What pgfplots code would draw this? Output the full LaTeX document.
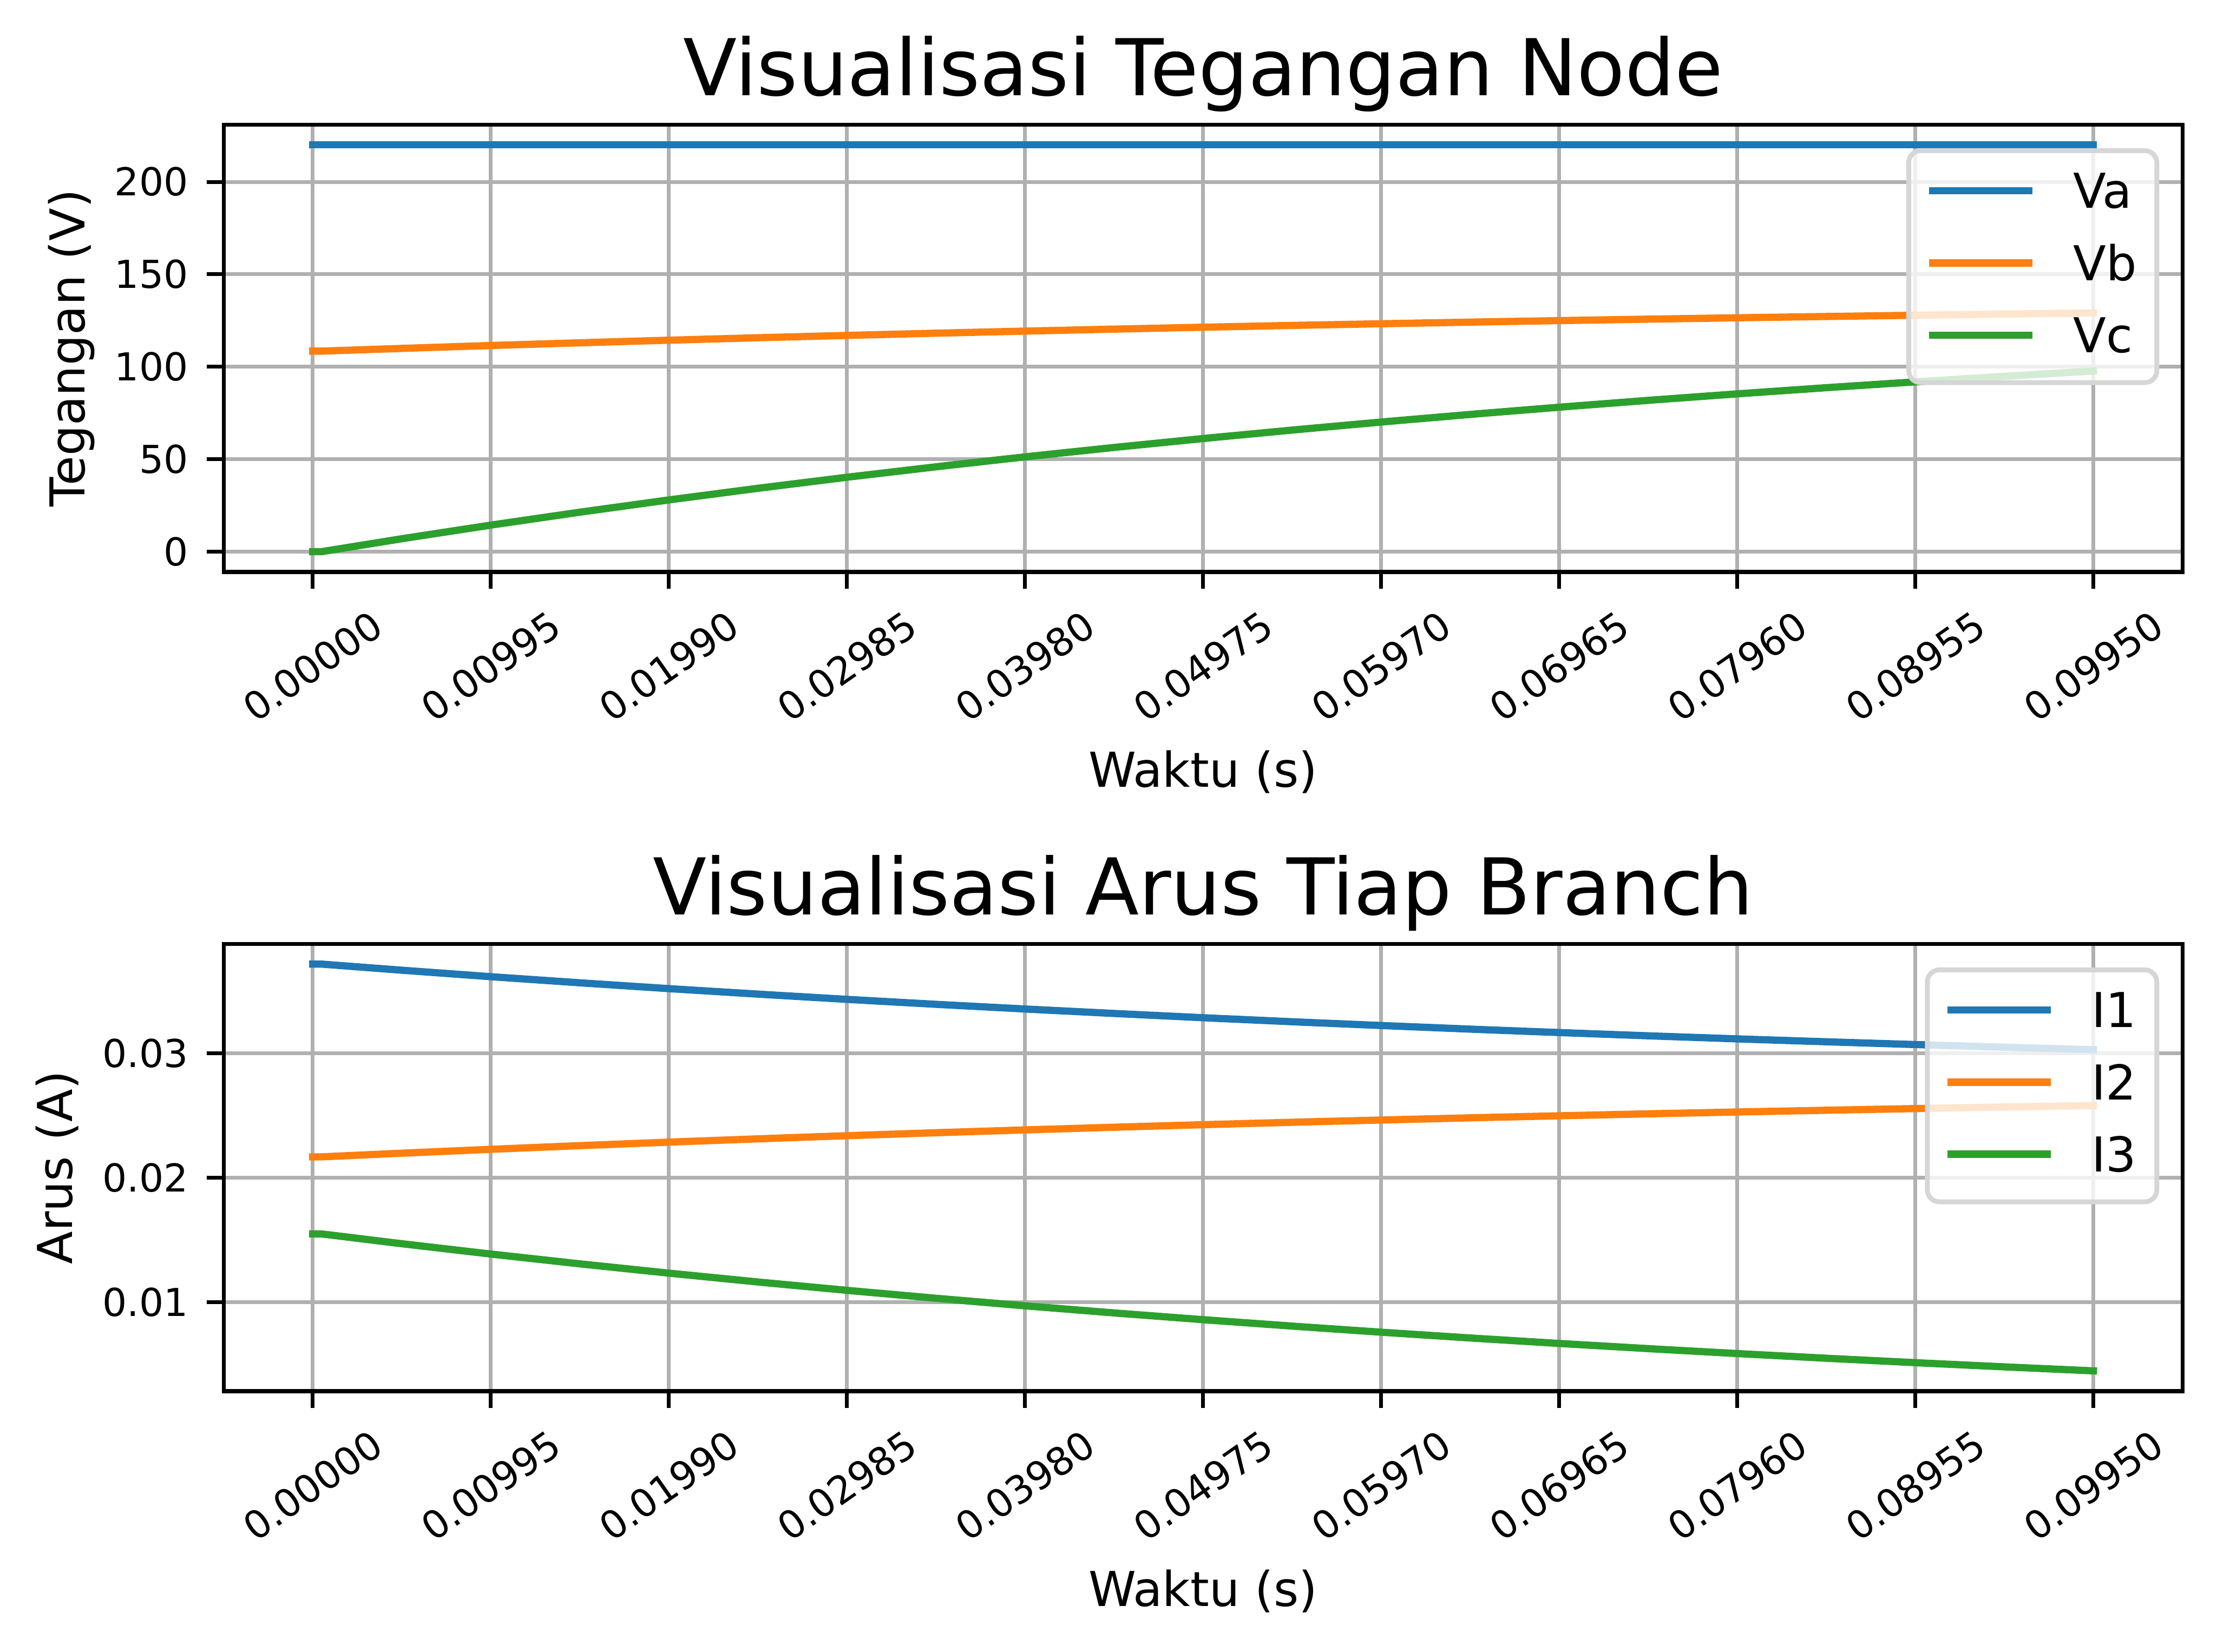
\documentclass[border=0pt]{standalone}
\usepackage{fontspec}
\setmainfont{DejaVu Sans}
\usepackage{pgfplots}
\usepackage{pgfplotstable}
\pgfplotsset{compat=1.18}

\definecolor{c0}{HTML}{1F77B4}
\definecolor{c1}{HTML}{FF7F0E}
\definecolor{c2}{HTML}{2CA02C}
\definecolor{gridc}{HTML}{B0B0B0}
\definecolor{legc}{HTML}{D6D6D6}

\pgfplotstableread{
t Va Vb Vc
0 220 108.45 0
0.0005 220 108.45 0
0.005 220 109.93 7.01
0.010 220 111.50 14.42
0.015 220 112.98 21.44
0.020 220 114.39 28.10
0.025 220 115.72 34.42
0.030 220 116.99 40.41
0.035 220 118.19 46.08
0.040 220 119.32 51.47
0.045 220 120.40 56.57
0.050 220 121.43 61.41
0.055 220 122.40 66.00
0.060 220 123.31 70.35
0.065 220 124.19 74.48
0.070 220 125.01 78.39
0.075 220 125.80 82.10
0.080 220 126.54 85.62
0.085 220 127.24 88.95
0.090 220 127.91 92.11
0.095 220 128.55 95.11
0.0995 220 129.09 97.68
}\voltages

\pgfplotstableread{
t I1 I2 I3
0 0.037183 0.021690 0.015493
0.0005 0.037183 0.021690 0.015493
0.005 0.036690 0.021986 0.014703
0.010 0.036167 0.022300 0.013869
0.015 0.035673 0.022596 0.013077
0.020 0.035203 0.022878 0.012327
0.025 0.034760 0.023144 0.011614
0.030 0.034337 0.023398 0.010940
0.035 0.033937 0.023638 0.010301
0.040 0.033560 0.023864 0.009693
0.045 0.033200 0.024080 0.009119
0.050 0.032857 0.024286 0.008574
0.055 0.032533 0.024480 0.008057
0.060 0.032230 0.024662 0.007566
0.065 0.031937 0.024838 0.007101
0.070 0.031663 0.025002 0.006660
0.075 0.031400 0.025160 0.006243
0.080 0.031153 0.025308 0.005846
0.085 0.030920 0.025448 0.005470
0.090 0.030697 0.025582 0.005114
0.095 0.030483 0.025710 0.004777
0.0995 0.030303 0.025818 0.004487
}\currents

\pgfplotsset{
  legend image code/.code={\draw[#1, line width=1.5pt, line cap=rect] (0pt,0.775pt) -- (20pt,0.775pt);},
  mystyle/.style={
    scale only axis, width=407.24pt, height=93.05pt,
    xmin=-0.004975, xmax=0.104475,
    xtick={0,0.00995,0.0199,0.02985,0.0398,0.04975,0.0597,0.06965,0.0796,0.08955,0.0995},
    xticklabels={0.00000,0.00995,0.01990,0.02985,0.03980,0.04975,0.05970,0.06965,0.07960,0.08955,0.09950},
    scaled x ticks=false, scaled y ticks=false,
    xtick pos=lower, ytick pos=left, tick align=outside,
    major tick length=3.5pt,
    tick style={black, line width=0.8pt},
    axis line style={black, line width=0.8pt},
    grid=major, major grid style={gridc, line width=0.8pt},
    ticklabel style={font=\fontsize{8}{9.6}\selectfont, inner sep=0pt},
    xticklabel style={rotate=35, anchor=center},
    xticklabel shift=16.1pt,
    yticklabel style={anchor=east},
    yticklabel shift=3.7pt,
    every axis x label/.style={at={(axis description cs:0.5,-0.4809)}, anchor=base, font=\fontsize{10}{12}\selectfont},
    every axis title/.style={at={(axis description cs:0.5,1.0645)}, anchor=base, font=\fontsize{16.3}{19.5}\selectfont},
    legend cell align=left,
    legend style={at={(0.98813,0.9470)}, anchor=north east, draw=legc, line width=1pt,
      rounded corners=2.5pt, fill=white, fill opacity=0.8, text opacity=1,
      inner xsep=4.2pt, inner ysep=4.7pt, row sep=6.16pt, column sep=8.5pt,
      nodes={inner sep=0pt, text height=7.29pt, text depth=1.55pt, font=\fontsize{10}{12}\selectfont}},
  }
}

\begin{document}
\begin{tikzpicture}
\begin{axis}[mystyle, at={(46.51pt,224.50pt)}, anchor=south west,
  ymin=-11, ymax=231,
  ytick={0,50,100,150,200}, yticklabels={0,50,100,150,200},
  title={Visualisasi Tegangan Node},
  xlabel={Waktu (s)},
  every axis y label/.style={at={(axis description cs:-0.07087,0.5)}, rotate=90, anchor=base, font=\fontsize{10}{12}\selectfont},
  ylabel={Tegangan (V)}]
\addplot[c0, line width=1.5pt, line cap=rect, line join=round] table[x=t, y=Va] {\voltages};
\addlegendentry{Va}
\addplot[c1, line width=1.5pt, line cap=rect, line join=round] table[x=t, y=Vb] {\voltages};
\addlegendentry{Vb}
\addplot[c2, line width=1.5pt, line cap=rect, line join=round] table[x=t, y=Vc] {\voltages};
\addlegendentry{Vc}
\end{axis}

\begin{axis}[mystyle, at={(46.51pt,54.13pt)}, anchor=south west,
  ymin=0.002852, ymax=0.038818,
  ytick={0.01,0.02,0.03}, yticklabels={0.01,0.02,0.03},
  title={Visualisasi Arus Tiap Branch},
  xlabel={Waktu (s)},
  every axis y label/.style={at={(axis description cs:-0.07735,0.5)}, rotate=90, anchor=base, font=\fontsize{10}{12}\selectfont},
  ylabel={Arus (A)}]
\addplot[c0, line width=1.5pt, line cap=rect, line join=round] table[x=t, y=I1] {\currents};
\addlegendentry{I1}
\addplot[c1, line width=1.5pt, line cap=rect, line join=round] table[x=t, y=I2] {\currents};
\addlegendentry{I2}
\addplot[c2, line width=1.5pt, line cap=rect, line join=round] table[x=t, y=I3] {\currents};
\addlegendentry{I3}
\end{axis}
\pgfresetboundingbox
\path[use as bounding box] (0pt,0pt) rectangle (460.93pt,343.45pt);
\end{tikzpicture}
\end{document}
